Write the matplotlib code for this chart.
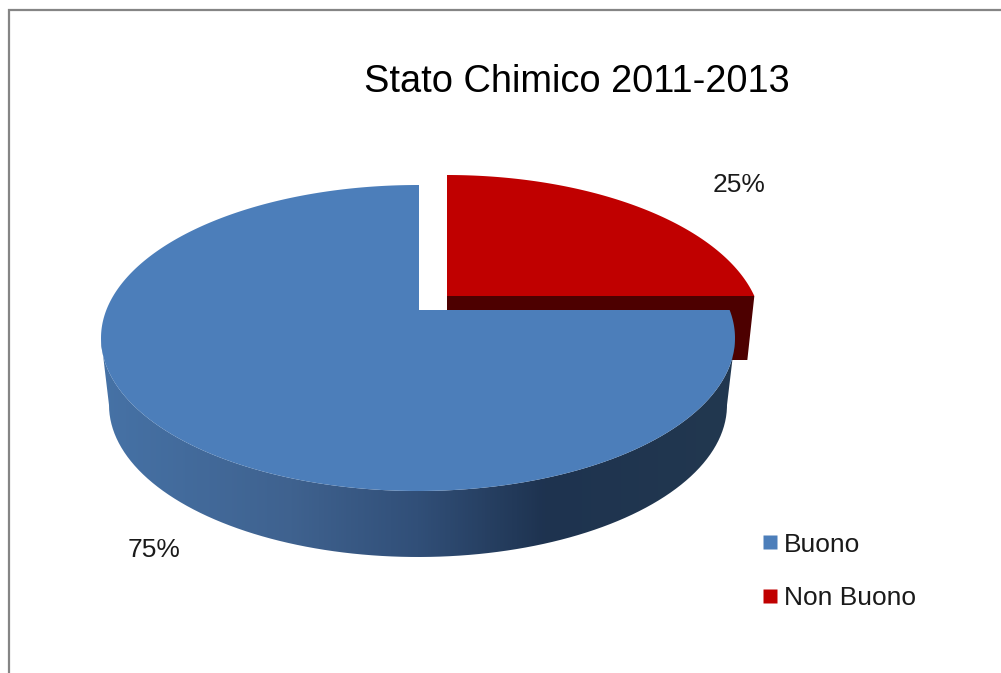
import matplotlib
matplotlib.use("Agg")
import matplotlib.pyplot as plt
import numpy as np
from matplotlib.colors import LinearSegmentedColormap
from matplotlib.lines import Line2D
from matplotlib.patches import Polygon
from matplotlib.path import Path

plt.rcParams['font.family'] = ['Liberation Sans', 'DejaVu Sans']

# dati
categorie = ["Buono", "Non Buono"]
valori = [75, 25]
etichette = ["75%", "25%"]
titolo = "Stato Chimico 2011-2013"

# colori
blu = "#4c7eba"
rosso = "#c00000"
rosso_scuro = "#4d0000"
gradiente = [(0.0, "#4672a6"), (0.3, "#3f628f"), (0.5, "#314f78"), (0.7, "#1e3350"), (1.0, "#22384f")]

# geometria del disco in pixel
apice = np.array([419.0, 310.0])
centro = np.array([418.0, 338.0])
rx, ry = 317.0, 153.0
centro_base = np.array([418.0, 405.0])
rx_base, ry_base = 309.0, 152.0
apice_rosso = np.array([447.0, 296.0])
centro_rosso = np.array([447.0, 330.0])
rx_rosso, ry_rosso = 315.0, 155.0
spessore_rosso = 64.0


def bordo(theta, ap, c, a, b):
    # punto dell'ellisse lungo il raggio uscente dall'apice
    dx = np.cos(theta) * a
    dy = -np.sin(theta) * b
    px = (ap[0] - c[0]) / a
    py = (ap[1] - c[1]) / b
    ux = dx / a
    uy = dy / b
    A = ux**2 + uy**2
    B = 2 * (px * ux + py * uy)
    C = px**2 + py**2 - 1
    t = (-B + np.sqrt(B**2 - 4 * A * C)) / (2 * A)
    return np.column_stack([ap[0] + t * dx, ap[1] + t * dy])


fig = plt.figure(figsize=(10.01, 6.73), dpi=100)
ax = fig.add_axes([0, 0, 1, 1])
ax.axis("off")

# angoli delle fette dai valori (si parte da ore 12 in senso orario)
totale = sum(valori)
fine_blu = 90 + 360 * valori[0] / totale
ang_blu = np.radians(np.linspace(90, fine_blu, 300))
ang_rosso = np.radians(np.linspace(fine_blu, 90 + 360, 100))

# fetta rossa staccata: prima il fianco scuro
faccia = bordo(ang_rosso, apice_rosso, centro_rosso, rx_rosso, ry_rosso)
spigolo = faccia[0]
fianco = [apice_rosso, spigolo, spigolo + [-7, spessore_rosso], apice_rosso + [0, spessore_rosso]]
ax.add_patch(Polygon(fianco, closed=True, fc=rosso_scuro, ec="none", zorder=1))
ax.add_patch(Polygon(np.vstack([apice_rosso, faccia]), closed=True, fc=rosso, ec="none", zorder=2))

# fianco del disco blu con sfumatura
t = np.linspace(0, np.pi, 200)
sopra = np.column_stack([centro[0] + rx * np.cos(t), centro[1] + ry * np.sin(t)])
sotto = np.column_stack([centro_base[0] + rx_base * np.cos(t), centro_base[1] + ry_base * np.sin(t)])
contorno = np.vstack([sopra, sotto[::-1], sopra[:1]])
cmap = LinearSegmentedColormap.from_list("fianco", gradiente)
img = ax.imshow(np.linspace(0, 1, 512)[None, :], cmap=cmap, aspect="auto",
                extent=[centro[0] - rx, centro[0] + rx, 600, 300], zorder=3)
img.set_clip_path(Path(contorno), ax.transData)

# faccia superiore blu
faccia_blu = bordo(ang_blu, apice, centro, rx, ry)
ax.add_patch(Polygon(np.vstack([apice, faccia_blu]), closed=True, fc=blu, ec="none", zorder=4))

# cornice della finestra
ax.plot([1001, 9, 9], [10, 10, 673], color="#858585", lw=1.6, zorder=5, solid_joinstyle="miter")

ax.set_xlim(0, 1001)
ax.set_ylim(673, 0)

ax.text(577, 81.5, titolo, fontsize=27.4, ha="center", va="center", color="black")
ax.text(154, 550, etichette[0], fontsize=19, ha="center", va="center", color="#1a1a1a")
ax.text(739, 185, etichette[1], fontsize=19, ha="center", va="center", color="#1a1a1a")

maniglie = [Line2D([], [], ls="none", marker="s", ms=9.5, mfc=c, mec="none") for c in (blu, rosso)]
ax.legend(maniglie, categorie, loc="upper left", bbox_to_anchor=(762.5 / 1001, 1 - 532.5 / 673),
          frameon=False, fontsize=19, labelspacing=1.12, handlelength=0.6,
          handletextpad=0.2, borderpad=0, borderaxespad=0, labelcolor="#1a1a1a")

fig.savefig("out.png", dpi=100, facecolor="white")
